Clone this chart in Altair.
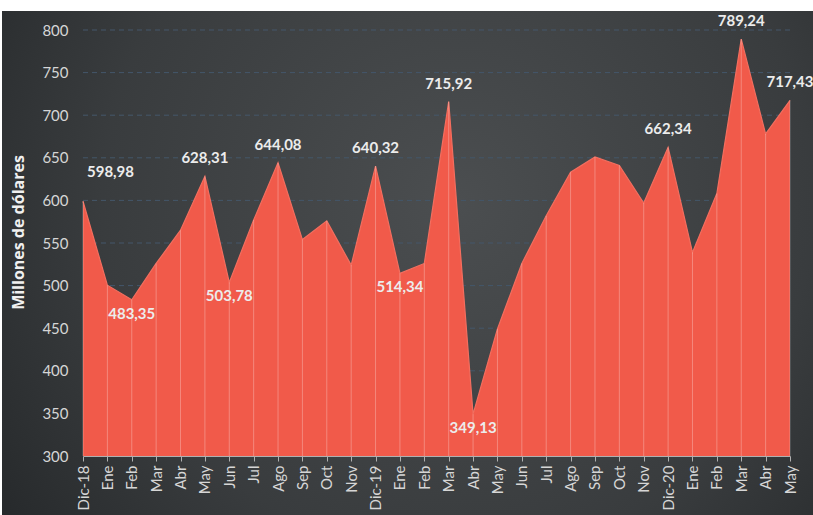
import json
import altair as alt
import pandas as pd

# ---- data ----
month_labels = ["Dic-18", "Ene", "Feb", "Mar", "Abr", "May", "Jun", "Jul", "Ago", "Sep", "Oct", "Nov",
                "Dic-19", "Ene", "Feb", "Mar", "Abr", "May", "Jun", "Jul", "Ago", "Sep", "Oct", "Nov",
                "Dic-20", "Ene", "Feb", "Mar", "Abr", "May"]
values = [598.98, 500.5, 483.35, 526.0, 565.0, 628.31, 503.78, 577.0, 644.08, 554.0, 576.0, 524.0,
          640.32, 514.34, 526.0, 715.92, 349.13, 449.0, 526.0, 582.0, 633.0, 651.0, 641.0, 597.0,
          662.34, 539.0, 608.0, 789.24, 678.0, 717.43]
labeled_idx = [0, 2, 5, 6, 8, 12, 13, 15, 16, 24, 27, 29]
y_ticks = [300, 350, 400, 450, 500, 550, 600, 650, 700, 750, 800]

FONT = "Lato"
W, H = 707, 426

idx = list(range(len(values)))
df = pd.DataFrame({"i": idx, "v": values, "m": month_labels})


def fmt(v):
    return f"{v:.2f}".replace(".", ",")


rows = []
for k in labeled_idx:
    v = values[k]
    prev_v = values[k - 1] if k > 0 else None
    next_v = values[k + 1] if k < len(values) - 1 else None
    below = (prev_v is None or v < prev_v) and (next_v is None or v < next_v)
    rows.append({"i": k, "v": v, "t": fmt(v), "pos": "below" if below else ("first" if k == 0 else "above")})
lab = pd.DataFrame(rows)
grid = pd.DataFrame({"g": y_ticks[1:]})

xs = alt.Scale(type="point", padding=0, domain=idx)
ys = alt.Scale(domain=[300, 800], nice=False, zero=False)

label_expr = json.dumps(month_labels) + "[datum.value]"

bg = alt.Chart(pd.DataFrame({"a": [0]})).mark_rect(
    fill=alt.Gradient(
        gradient="radial",
        stops=[alt.GradientStop(color="#4b4e50", offset=0),
               alt.GradientStop(color="#393c3e", offset=0.55),
               alt.GradientStop(color="#1e2123", offset=1)],
        x1=0.55, y1=0.42, r1=0, x2=0.55, y2=0.42, r2=0.78),
).encode(x=alt.value(-81), x2=alt.value(W + 40), y=alt.value(-19), y2=alt.value(H + 70))

gridlines = alt.Chart(grid).mark_rule(color="#44576a", strokeDash=[5, 4], strokeWidth=1).encode(
    y=alt.Y("g:Q", scale=ys), x=alt.value(0), x2=alt.value(W))

base = alt.Chart(df)

area = base.mark_area(color="#f15a4a", opacity=1, line=False).encode(
    x=alt.X("i:O", scale=xs, sort=None,
            axis=alt.Axis(labelExpr=label_expr, labelAngle=270, title=None,
                          labelFont=FONT, labelFontSize=15, labelColor="#d6d6d6",
                          domainColor="#b0b0b0", tickColor="#b0b0b0", tickSize=5,
                          labelPadding=4, grid=False, zindex=1, labelOverlap=False)),
    y=alt.Y("v:Q", scale=ys,
            axis=alt.Axis(values=y_ticks, title="Millones de dólares", grid=False, domain=False, ticks=False,
                          labelFont=FONT, labelFontSize=15, labelColor="#d6d6d6", labelPadding=15,
                          titleFont="Open Sans", titleFontSize=16, titleFontWeight="bold", titleColor="#f0f0f0",
                          titleX=-65, titleY=202, titleBaseline="middle", titleAngle=270, zindex=1)),
    y2=alt.datum(300),
)

edge = base.mark_line(color="#f36e5f", strokeWidth=1.2).encode(
    x=alt.X("i:O", scale=xs, sort=None), y=alt.Y("v:Q", scale=ys))

vlines = base.mark_rule(color="#ffffff", opacity=0.28, strokeWidth=1).encode(
    x=alt.X("i:O", scale=xs, sort=None), y=alt.Y("v:Q", scale=ys), y2=alt.datum(300))

text_style = dict(font=FONT, fontSize=15, fontWeight="bold", color="#ececec", baseline="middle")

t_above = alt.Chart(lab).transform_filter("datum.pos == 'above'").mark_text(dy=-18, **text_style).encode(
    x=alt.X("i:O", scale=xs, sort=None), y=alt.Y("v:Q", scale=ys), text="t:N")
t_below = alt.Chart(lab).transform_filter("datum.pos == 'below'").mark_text(dy=14, **text_style).encode(
    x=alt.X("i:O", scale=xs, sort=None), y=alt.Y("v:Q", scale=ys), text="t:N")
t_first = alt.Chart(lab).transform_filter("datum.pos == 'first'").mark_text(
    dy=-29, dx=4, align="left", **text_style).encode(
    x=alt.X("i:O", scale=xs, sort=None), y=alt.Y("v:Q", scale=ys), text="t:N")

chart = alt.layer(bg, gridlines, area, edge, vlines, t_above, t_below, t_first).properties(
    width=W, height=H,
    autosize=alt.AutoSizeParams(type="none"),
    padding={"left": 83, "top": 30, "right": 23, "bottom": 59},
    background="white",
).configure_view(stroke=None)

chart.save("out.html", embed_options={"renderer": "svg", "actions": False})
